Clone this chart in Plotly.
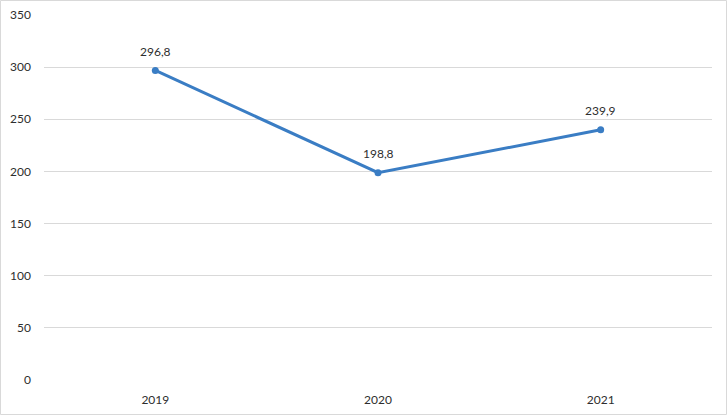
import plotly.graph_objects as go

years = ["2019", "2020", "2021"]
values = [296.8, 198.8, 239.9]
labels = ["296,8", "198,8", "239,9"]

W, H = 728, 416
L, R, T, B = 44, 16, 15, 36
pw, ph = W - L - R, H - T - B
FONT = "Lato, Open Sans, sans-serif"
TXT = "#2E2E2E"

fig = go.Figure()
fig.add_trace(go.Scatter(
    x=years, y=values, mode="lines+markers",
    line=dict(color="#3A7DC4", width=3),
    marker=dict(color="#3A7DC4", size=7),
    cliponaxis=False,
    hoverinfo="skip",
))
for i, (yv, lab) in enumerate(zip(values, labels)):
    fig.add_annotation(x=i, y=yv, xref="x", yref="y", text=lab, showarrow=False,
                       yshift=19, font=dict(family=FONT, size=12, color=TXT))

fig.update_layout(
    width=W, height=H,
    margin=dict(l=L, r=R, t=T, b=B, autoexpand=False),
    paper_bgcolor="white", plot_bgcolor="white",
    showlegend=False,
    font=dict(family=FONT, size=12, color=TXT),
    xaxis=dict(type="category", range=[-0.5, 2.5], showgrid=False, zeroline=False,
               showline=False, ticks="", automargin=False,
               tickfont=dict(size=12, color=TXT), ticklabelstandoff=11),
    yaxis=dict(range=[0, 350], dtick=50, showgrid=True, gridcolor="#D9D9D9",
               gridwidth=1, zeroline=False, showline=False, ticks="", automargin=False,
               tickfont=dict(size=12, color=TXT), ticklabelstandoff=12),
    shapes=[dict(type="rect", xref="paper", yref="paper",
                 x0=(0.5 - L) / pw, x1=(W - 1.5 - L) / pw,
                 y0=-(B - 1.5) / ph, y1=(ph + T - 0.5) / ph,
                 line=dict(color="#D9D9D9", width=1))],
)

fig.write_html("out.html", config={"displayModeBar": False},
               post_script="document.body.style.margin='0';")
